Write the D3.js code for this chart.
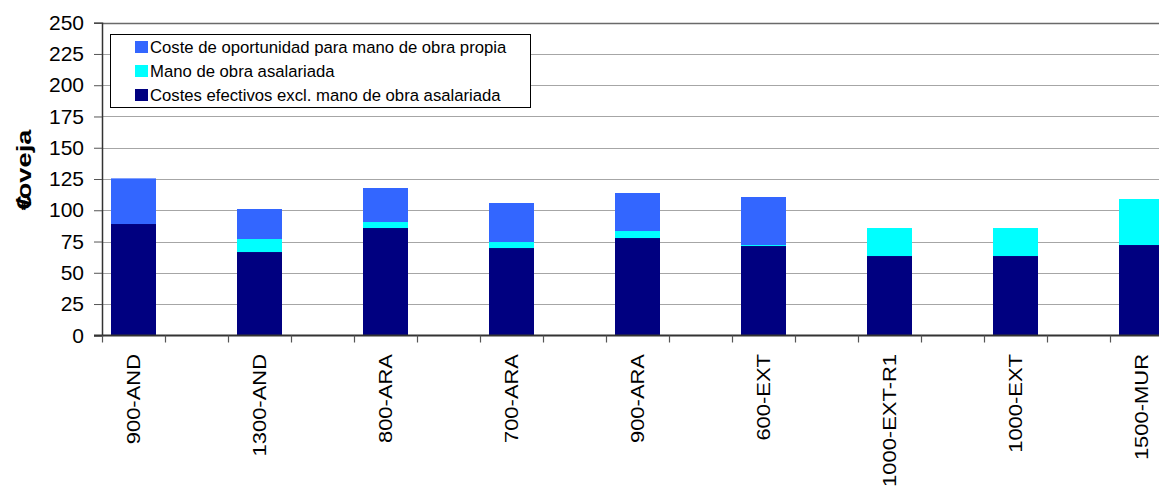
<!DOCTYPE html>
<html>
<head>
<meta charset="utf-8">
<script src="https://cdn.jsdelivr.net/npm/d3@7"></script>
<style>
  html, body { margin: 0; padding: 0; background: #fff; overflow: hidden; }
  svg { display: block; font-family: "Liberation Sans", Arial, sans-serif; }
</style>
</head>
<body>
<svg id="chart" width="1159" height="492"></svg>
<script>
// Farm types (categories)
const categories = ["900-AND", "1300-AND", "800-ARA", "700-ARA", "900-ARA", "600-EXT", "1000-EXT-R1", "1000-EXT", "1500-MUR"];

// Cost components, €/oveja (stacked bottom to top)
const costesEfectivos   = [89.0, 66.6, 85.8, 69.8, 77.8, 71.4, 63.4, 63.4, 72.2];
const manoObraAsalariada = [0.0, 10.4, 4.8, 4.8, 5.6, 0.8, 22.4, 22.4, 36.8];
const costeOportunidad   = [36.5, 24.0, 27.2, 31.2, 30.4, 38.4, 0.0, 0.0, 0.0];

const seriesNames = [
  "Costes efectivos excl. mano de obra asalariada",
  "Mano de obra asalariada",
  "Coste de oportunidad para mano de obra propia"
];
const seriesColors = ["#000080", "#00FFFF", "#3366FF"];

const yTicks = [0, 25, 50, 75, 100, 125, 150, 175, 200, 225, 250];
const yTitle = "€/oveja";

(function draw() {
  const svg = d3.select("#chart");
  const plotLeft = 102, plotTop = 22.7, plotBottom = 335.3;
  const slot = 63;

  // Each farm type is followed by an empty slot on the category axis
  const slots = [];
  categories.forEach((c, i) => { slots.push(c); slots.push("__gap" + i); });
  const plotRight = plotLeft + slots.length * slot;

  const x = d3.scaleBand().domain(slots).range([plotLeft, plotRight])
    .paddingInner(18 / 63).paddingOuter(9 / 63);
  const y = d3.scaleLinear().domain([0, 250]).range([plotBottom, plotTop]);

  // Gridlines
  svg.append("g").selectAll("line").data(yTicks.filter(t => t > 0)).join("line")
    .attr("x1", plotLeft).attr("x2", plotRight)
    .attr("y1", d => Math.round(y(d)) + 0.5).attr("y2", d => Math.round(y(d)) + 0.5)
    .attr("stroke", d => d === 250 ? "#6a6a6a" : "#a6a6a6")
    .attr("stroke-width", d => d === 250 ? 1.5 : 1.2);

  // Stacked bars
  const rows = categories.map((c, i) => ({
    cat: c,
    s0: costesEfectivos[i],
    s1: manoObraAsalariada[i],
    s2: costeOportunidad[i]
  }));
  const stacked = d3.stack().keys(["s0", "s1", "s2"])(rows);

  svg.append("g").selectAll("g").data(stacked).join("g")
    .attr("fill", (d, i) => seriesColors[i])
    .selectAll("rect").data(d => d).join("rect")
    .attr("x", d => x(d.data.cat))
    .attr("width", x.bandwidth())
    .attr("y", d => y(d[1]))
    .attr("height", d => Math.max(0, y(d[0]) - y(d[1])));

  // Y axis
  const yAxis = d3.axisLeft(y).tickValues(yTicks).tickSize(8).tickPadding(10).tickFormat(d3.format("d"));
  const gy = svg.append("g").attr("transform", `translate(${plotLeft},0)`).call(yAxis);
  gy.select(".domain").attr("stroke", "#333").attr("stroke-width", 1.5);
  gy.selectAll(".tick line").attr("stroke", "#555");
  gy.selectAll(".tick text").attr("font-size", 21).attr("fill", "#000")
    .attr("font-family", "Liberation Sans, Arial, sans-serif");

  // X axis line and slot boundary ticks
  const xBase = Math.round(plotBottom) + 0.5;
  svg.append("line").attr("x1", plotLeft - 8).attr("x2", plotRight)
    .attr("y1", xBase).attr("y2", xBase).attr("stroke", "#333").attr("stroke-width", 2);
  const boundaries = d3.range(slots.length + 1).map(k => plotLeft + k * slot);
  svg.append("g").selectAll("line").data(boundaries).join("line")
    .attr("x1", d => d + 0.5).attr("x2", d => d + 0.5)
    .attr("y1", xBase).attr("y2", xBase + 7)
    .attr("stroke", "#555").attr("stroke-width", 1.2);

  // Category labels (rotated)
  svg.append("g").selectAll("text").data(categories).join("text")
    .attr("transform", d => `translate(${x(d) + x.bandwidth() / 2 + 6},354) rotate(-90) scale(1.22,1)`)
    .attr("text-anchor", "end")
    .attr("font-size", 18)
    .attr("fill", "#000")
    .text(d => d);

  // Y axis title
  const tt = svg.append("text")
    .attr("transform", "translate(31,170) rotate(-90) scale(1.3,1)")
    .attr("text-anchor", "middle")
    .attr("font-size", 21)
    .attr("font-weight", "bold")
    .attr("fill", "#000");
  tt.append("tspan").text(yTitle.slice(0, 1));
  tt.append("tspan").attr("dx", -8).text(yTitle.slice(1, 2));
  tt.append("tspan").attr("dx", -1).text(yTitle.slice(2));

  // Legend
  const lg = svg.append("g").attr("transform", "translate(110.5,34.5)");
  lg.append("rect").attr("width", 420).attr("height", 73)
    .attr("fill", "#fff").attr("stroke", "#000").attr("stroke-width", 1);
  [2, 1, 0].forEach((si, r) => {
    const cy = 12.5 + r * 24;
    lg.append("rect").attr("x", 24.5).attr("y", cy - 6).attr("width", 13).attr("height", 12)
      .attr("fill", seriesColors[si]);
    lg.append("text").attr("x", 39.5).attr("y", cy + 6)
      .attr("font-size", 16.7).attr("fill", "#000")
      .text(seriesNames[si]);
  });
})();
</script>
</body>
</html>
